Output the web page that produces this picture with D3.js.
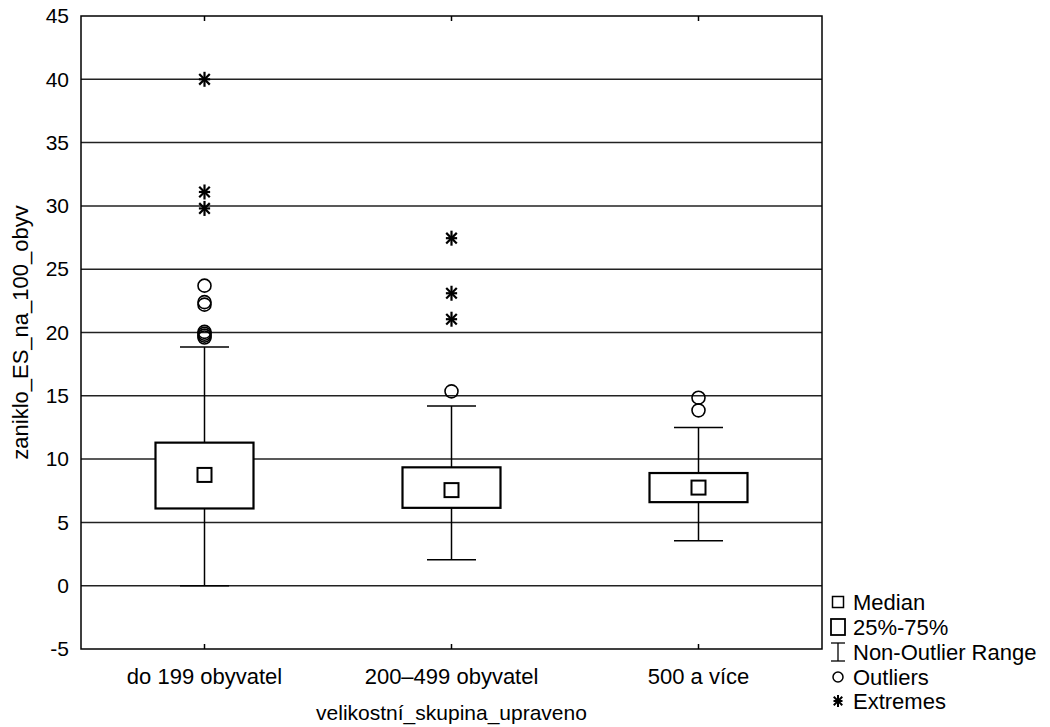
<!DOCTYPE html>
<html><head><meta charset="utf-8">
<script src="https://cdn.jsdelivr.net/npm/d3@7"></script>
<style>body{margin:0;background:#fff}text{font-family:"Liberation Sans",Arial,sans-serif;fill:#000}</style>
</head><body><svg id="c" width="1050" height="727"></svg>
<script>
const categories = ["do 199 obyvatel", "200–499 obyvatel", "500 a více"];
const medians = [8.75, 7.55, 7.75];
const q1 = [6.1, 6.15, 6.6];
const q3 = [11.3, 9.35, 8.9];
const whiskerLow = [0, 2.05, 3.55];
const whiskerHigh = [18.85, 14.2, 12.5];
const outliers = [[19.6, 19.75, 19.9, 20.05, 22.2, 22.4, 23.7], [15.35], [13.85, 14.85]];
const extremes = [[29.8, 31.1, 40.0], [21.05, 23.1, 27.45], []];
const yTicks = [-5, 0, 5, 10, 15, 20, 25, 30, 35, 40, 45];
const legendLabels = ["Median", "25%-75%", "Non-Outlier Range", "Outliers", "Extremes"];

const svg = d3.select("#c");
const L = 81, R = 822, T = 16, B = 649;
const x = d3.scaleBand().domain(categories).range([L, R]);
const y = d3.scaleLinear().domain([-5, 45]).range([B, T]);
const cx = d => x(d) + x.bandwidth() / 2;
const FONT = "Liberation Sans, Arial, sans-serif";

// gridlines
svg.append("g").selectAll("line").data(yTicks.filter(v => v > -5 && v < 45)).join("line")
  .attr("x1", L).attr("x2", R).attr("y1", d => y(d)).attr("y2", d => y(d))
  .attr("stroke", "#222").attr("stroke-width", 1.5);

// axes
const yAxis = d3.axisLeft(y).tickValues(yTicks).tickSize(0).tickPadding(12).tickFormat(d => String(d));
const gy = svg.append("g").attr("transform", `translate(${L},0)`).call(yAxis);
gy.select(".domain").remove();
gy.selectAll("text").style("font-size", "21px").style("font-family", FONT).attr("fill", "#000");

const xAxis = d3.axisBottom(x).tickSize(-5).tickPadding(19);
const gx = svg.append("g").attr("transform", `translate(0,${B})`).call(xAxis);
gx.select(".domain").remove();
gx.selectAll("line").attr("stroke", "#000").attr("stroke-width", 1.5);
gx.selectAll("text").style("font-size", "22px").style("font-family", FONT).attr("fill", "#000");
const gxt = svg.append("g").attr("transform", `translate(0,${T})`).call(d3.axisTop(x).tickSize(-5).tickFormat(""));
gxt.select(".domain").remove();
gxt.selectAll("line").attr("stroke", "#000").attr("stroke-width", 1.5);

// frame
svg.append("rect").attr("x", L).attr("y", T).attr("width", R - L).attr("height", B - T)
  .attr("fill", "none").attr("stroke", "#000").attr("stroke-width", 1.5);

// titles
svg.append("text").attr("x", (L + R) / 2).attr("y", 720).attr("text-anchor", "middle")
  .attr("fill", "#000").style("font-size", "21px").text("velikostní_skupina_upraveno");
svg.append("text").attr("transform", `translate(28,${(T + B) / 2}) rotate(-90)`).attr("text-anchor", "middle")
  .attr("fill", "#000").style("font-size", "22px").text("zaniklo_ES_na_100_obyv");

// boxes
const boxW = 98, capW = 49, medS = 14;
const g = svg.append("g");
categories.forEach((c, i) => {
  const xc = cx(c);
  g.append("line").attr("x1", xc).attr("x2", xc).attr("y1", y(q3[i])).attr("y2", y(whiskerHigh[i])).attr("stroke", "#000").attr("stroke-width", 1.5);
  g.append("line").attr("x1", xc).attr("x2", xc).attr("y1", y(q1[i])).attr("y2", y(whiskerLow[i])).attr("stroke", "#000").attr("stroke-width", 1.5);
  [whiskerHigh[i], whiskerLow[i]].forEach(v => g.append("line").attr("x1", xc - capW / 2).attr("x2", xc + capW / 2)
    .attr("y1", y(v)).attr("y2", y(v)).attr("stroke", "#000").attr("stroke-width", 1.5));
  g.append("rect").attr("x", xc - boxW / 2).attr("y", y(q3[i])).attr("width", boxW).attr("height", y(q1[i]) - y(q3[i]))
    .attr("fill", "#fff").attr("stroke", "#000").attr("stroke-width", 2.2);
  g.append("rect").attr("x", xc - medS / 2).attr("y", y(medians[i]) - medS / 2).attr("width", medS).attr("height", medS)
    .attr("fill", "#fff").attr("stroke", "#000").attr("stroke-width", 2);
  outliers[i].forEach(v => g.append("circle").attr("cx", xc).attr("cy", y(v)).attr("r", 6.5)
    .attr("fill", "none").attr("stroke", "#000").attr("stroke-width", 1.6));
  extremes[i].forEach(v => drawStar(g, xc, y(v), 7.5, 2.2));
});

function drawStar(sel, px, py, r, w) {
  [90, 45, 135, 0].forEach(a => {
    const rad = a * Math.PI / 180;
    const k = a === 0 ? 0.75 : 1;
    sel.append("line").attr("x1", px - k * r * Math.cos(rad)).attr("x2", px + k * r * Math.cos(rad))
      .attr("y1", py - r * Math.sin(rad)).attr("y2", py + r * Math.sin(rad))
      .attr("stroke", "#000").attr("stroke-width", w);
  });
}

// legend
const lg = svg.append("g");
const rowY = [602, 627, 652, 677, 701];
const ix = 838;
legendLabels.forEach((t, i) => {
  lg.append("text").attr("x", 853).attr("y", rowY[i]).attr("dy", "0.35em").attr("fill", "#000").style("font-size", "22px").text(t);
});
lg.append("rect").attr("x", ix - 5.5).attr("y", rowY[0] - 5.5).attr("width", 11).attr("height", 11).attr("fill", "none").attr("stroke", "#000").attr("stroke-width", 1.5);
lg.append("rect").attr("x", ix - 7).attr("y", rowY[1] - 8).attr("width", 14).attr("height", 16).attr("fill", "none").attr("stroke", "#000").attr("stroke-width", 1.8);
lg.append("line").attr("x1", ix).attr("x2", ix).attr("y1", rowY[2] - 9).attr("y2", rowY[2] + 9).attr("stroke", "#000").attr("stroke-width", 1.3);
lg.append("line").attr("x1", ix - 7).attr("x2", ix + 7).attr("y1", rowY[2] - 9).attr("y2", rowY[2] - 9).attr("stroke", "#000").attr("stroke-width", 1.3);
lg.append("line").attr("x1", ix - 7).attr("x2", ix + 7).attr("y1", rowY[2] + 9).attr("y2", rowY[2] + 9).attr("stroke", "#000").attr("stroke-width", 1.3);
lg.append("circle").attr("cx", ix).attr("cy", rowY[3]).attr("r", 5).attr("fill", "none").attr("stroke", "#000").attr("stroke-width", 1.5);
drawStar(lg, ix, rowY[4], 6, 2);
</script></body></html>
